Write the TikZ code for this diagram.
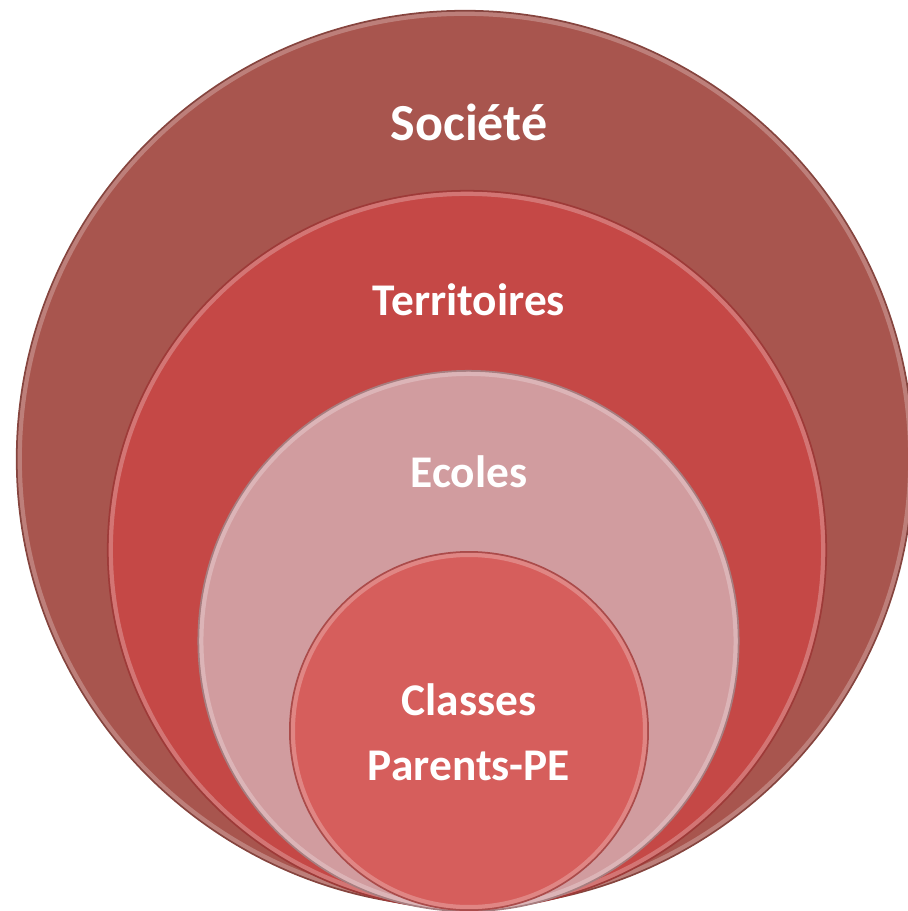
\documentclass[tikz,border=0pt]{standalone}
\usepackage{fontspec}
\setmainfont{Carlito}
\definecolor{societeRed}{HTML}{A8554E}
\definecolor{territoireRed}{HTML}{C54846}
\definecolor{ecolePink}{HTML}{D19C9F}
\definecolor{classeRed}{HTML}{D65E5C}

\begin{document}
\begin{tikzpicture}
[ x=0.01cm, y=-0.01cm
, ring/.style={circle, inner sep=0pt, fill=#1, draw=#1!80!black, line width=0.5pt}
, rim/.style={circle, inner sep=0pt, draw=white, draw opacity=0.25, line width=1.2pt}
, ringtext/.style={anchor=base, text=white, font=\bfseries\fontsize{12.9}{15}\selectfont}
, bigtext/.style={ringtext, font=\bfseries\fontsize{14.8}{18}\selectfont}
]
\useasboundingbox (0,0) rectangle (908,911);
% Rings, outer first
\node (societe) [ring=societeRed, minimum size=8.96cm] at (465,459) {};
\node [rim, minimum size=8.9cm] at (societe.center) {};
\node (territoires) [ring=territoireRed, minimum size=7.18cm] at (467,550) {};
\node [rim, minimum size=7.12cm] at (territoires.center) {};
\node (ecoles) [ring=ecolePink, minimum size=5.40cm] at (468.5,641) {};
\node [rim, minimum size=5.34cm] at (ecoles.center) {};
\node (classes) [ring=classeRed, minimum size=3.58cm] at (469,731) {};
\node [rim, minimum size=3.52cm] at (classes.center) {};
% Texts
\node (societeText) [bigtext] at (469,140) {Société};
\node (territoiresText) [ringtext] at (469,315) {Territoires};
\node (ecolesText) [ringtext] at (469,487) {Ecoles};
\node (classesText) [ringtext] at (469,715) {Classes};
\node (parentsText) [ringtext] at (469,780) {Parents-PE};
\end{tikzpicture}
\end{document}
